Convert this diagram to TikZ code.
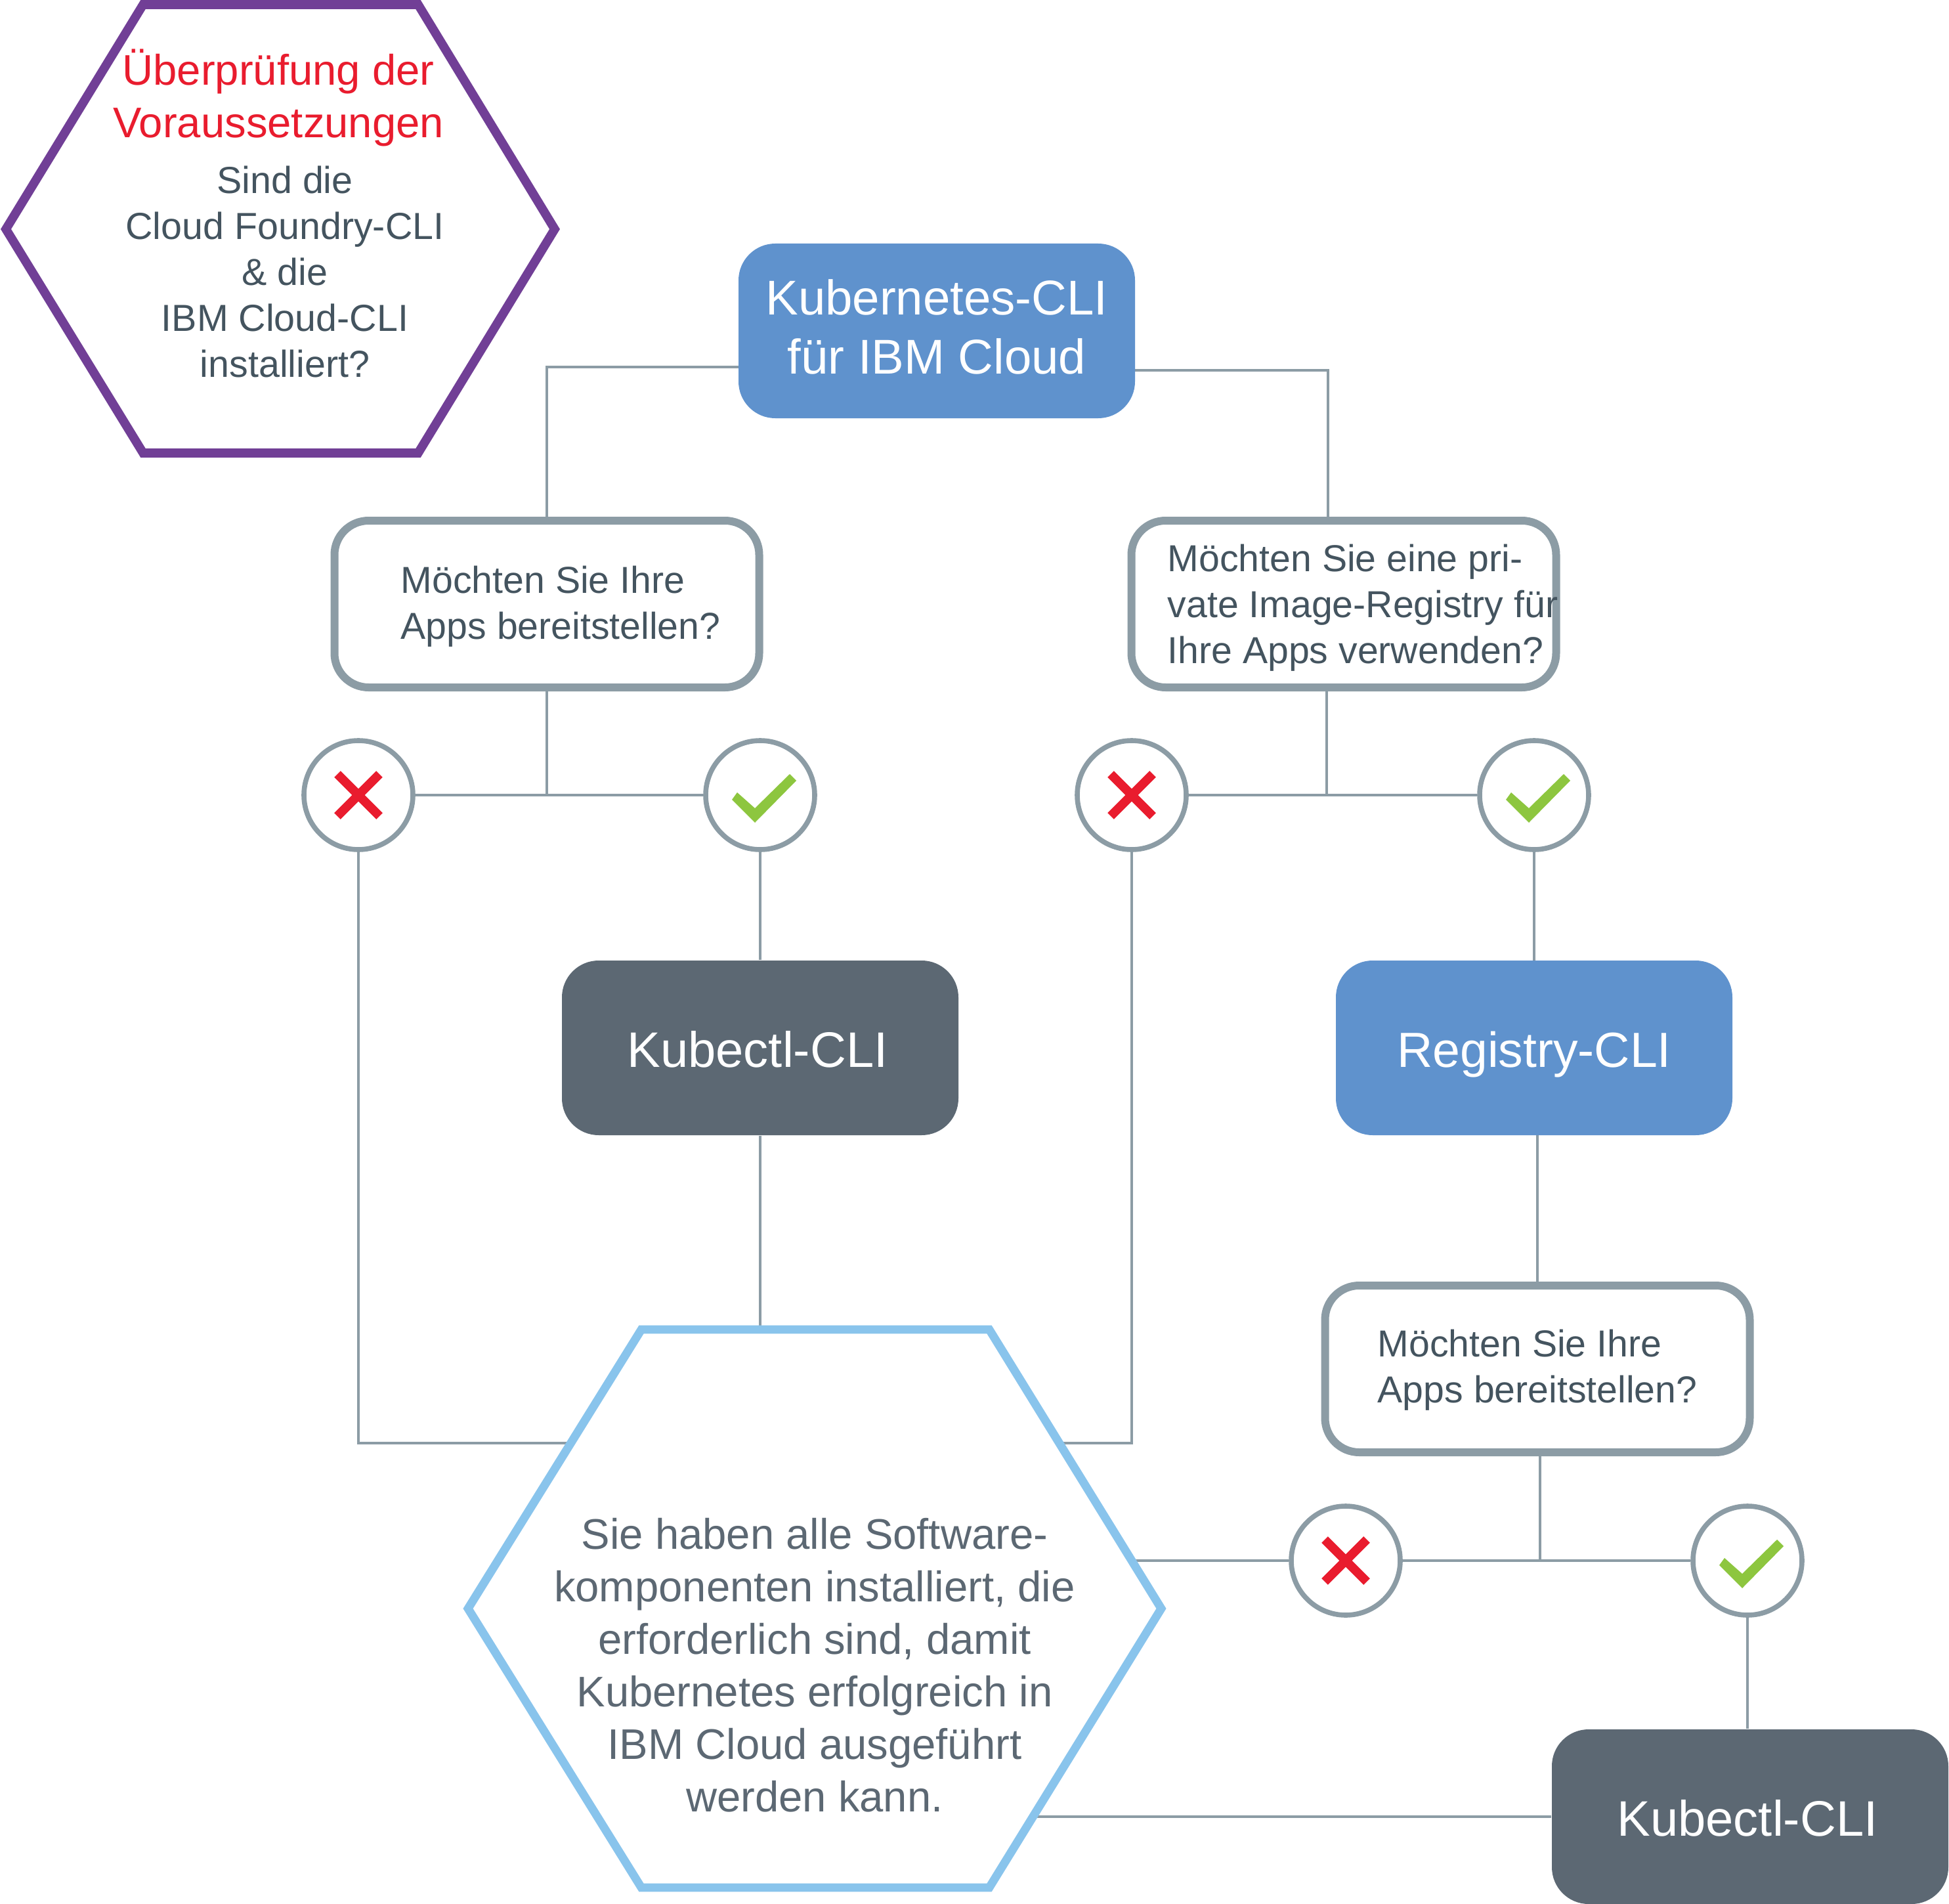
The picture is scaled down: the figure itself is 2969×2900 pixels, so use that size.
\documentclass[tikz,border=0pt]{standalone}
\usepackage{fontspec}
\setmainfont{Liberation Sans}
\usetikzlibrary{backgrounds, positioning}
\definecolor{ibmblue}{HTML}{5F92CD}
\definecolor{ibmdark}{HTML}{5C6873}
\definecolor{ibmgrey}{HTML}{8C9CA5}
\definecolor{ibmtext}{HTML}{44545F}
\definecolor{ibmred}{HTML}{E91C2E}
\definecolor{ibmgreen}{HTML}{8DC63F}
\definecolor{ibmpurple}{HTML}{713F96}
\definecolor{ibmsky}{HTML}{89C4EC}

\begin{document}
\begin{tikzpicture}[
        x=0.25pt, y=-0.25pt,
        basic/.style    = {rectangle, inner sep=0pt},
        cli/.style      = {basic, rounded corners=14pt, minimum width=151pt, minimum height=66.5pt, text=white, align=center,
                           text height=14.6pt, text depth=0pt, font=\fontsize{19}{22.3}\selectfont},
        question/.style = {basic, rounded corners=13pt, draw=ibmgrey, line width=3pt, fill=white, minimum width=161.75pt, minimum height=63.5pt},
        qtext/.style    = {inner sep=0pt, anchor=west, align=left, text=ibmtext,
                           font=\fontsize{14.3}{17.5}\selectfont},
        answer/.style   = {circle, draw=ibmgrey, line width=1.9pt, fill=white, minimum size=41.5pt, inner sep=0pt},
        hexa/.style     = {fill=white, line join=miter},
        conn/.style     = {draw=ibmgrey, line width=1pt},
        crossmark/.pic  = {\draw[ibmred, line width=3.4pt] (-32,-32) -- (32,32) (-32,32) -- (32,-32);},
        okmark/.pic     = {\fill[ibmgreen] (-8,42) -- (-43,7) -- (-35,-4) -- (-8,20) -- (45,-32) -- (55,-22) -- cycle;}]

    \useasboundingbox (0,0) rectangle (2969,2900);

    % prerequisite hexagon
    \draw[hexa, draw=ibmpurple, line width=3.4pt] (9,349) -- (218,7) -- (637,7) -- (845,349) -- (637,690) -- (218,690) -- cycle;
    \node[inner sep=0pt, align=center, text=ibmred, font=\fontsize{16.3}{20}\selectfont] (checktitle) at (424,149)
        {Überprüfung der \\ Voraussetzungen};
    \node[inner sep=0pt, align=center, text=ibmtext, font=\fontsize{14.35}{17.5}\selectfont] (checktext) at (434,414)
        {Sind die \\ Cloud Foundry-CLI \\ \& die \\ IBM Cloud-CLI \\ installiert?};

    % the tool boxes
    \node[cli, fill=ibmblue] (kube) at (1427,504) {};
    \node[inner sep=0pt, align=center, text=white, font=\fontsize{18.6}{22.3}\selectfont] (kubetext) at (1427,498)
        {Kubernetes-CLI \\ für IBM Cloud};
    \node[cli, fill=ibmdark] (kubectla) at (1158,1596) {\kern-2pt Kubectl-CLI};
    \node[cli, fill=ibmblue, font=\fontsize{18.8}{22.3}\selectfont] (registry) at (2337,1596) {Registry-CLI};
    \node[cli, fill=ibmdark] (kubectlb) at (2666,2767) {\kern-2pt Kubectl-CLI};

    % the questions
    \node[question] (qa) at (833,920) {};
    \node[qtext] (qatext) at (610,924) {Möchten Sie Ihre \\ Apps bereitstellen?};
    \node[question] (qb) at (2047,920) {};
    \node[qtext] (qbtext) at (1778,926) {Möchten Sie eine pri- \\ vate Image-Registry für \\ Ihre Apps verwenden?};
    \node[question] (qc) at (2342,2085) {};
    \node[qtext] (qctext) at (2098,2087) {Möchten Sie Ihre \\ Apps bereitstellen?};

    % yes and no circles
    \node[answer] (noa)  at (546,1211) {};
    \node[answer] (yesa) at (1158,1211) {};
    \node[answer] (nob)  at (1724,1211) {};
    \node[answer] (yesb) at (2337,1211) {};
    \node[answer] (noc)  at (2050,2377) {};
    \node[answer] (yesc) at (2662,2377) {};

    \foreach \value in {a,b,c} {
        \pic at (no\value) {crossmark};
        \pic at (yes\value) {okmark};
    }

    % result hexagon
    \draw[hexa, draw=ibmsky, line width=3.2pt] (713,2450) -- (977,2025) -- (1507,2025) -- (1769,2450) -- (1507,2875) -- (977,2875) -- cycle;
    \node[inner sep=0pt, align=center, text=ibmdark, font=\fontsize{16.3}{20}\selectfont] (donetext) at (1241,2536)
        {Sie haben alle Software- \\ komponenten installiert, die \\ erforderlich sind, damit \\
         Kubernetes erfolgreich in \\ IBM Cloud ausgeführt \\ werden kann.};

    % free ends of the lines
    \coordinate (kubeleft)   at (1125,559);
    \coordinate (kuberight)  at (1729,564);
    \coordinate (qatop)      at (833,787);
    \coordinate (qbtop)      at (2023,787);
    \coordinate (qbbottom)   at (2021,1053);
    \coordinate (qcbottom)   at (2346,2218);
    \coordinate (joina)      at (833,1211);
    \coordinate (joinb)      at (2021,1211);
    \coordinate (joinc)      at (2346,2377);
    \coordinate (doneleft)   at (870,2198);
    \coordinate (doneright)  at (1614,2198);
    \coordinate (donetop)    at (1158,2025);
    \coordinate (doneno)     at (1724,2377);
    \coordinate (donekube)   at (1573,2767);
    \coordinate (regtop)     at (2337,1463);
    \coordinate (regbot)     at (2342,1729);

    % lines run behind the shapes
    \begin{scope}[on background layer]
    \draw[conn] (kubeleft) -| (qatop);
    \draw[conn] (kuberight) -| (qbtop);
    \draw[conn] (qa.south) -- (joina);
    \draw[conn] (qbbottom) -- (joinb);
    \draw[conn] (qcbottom) -- (joinc);
    \draw[conn] (noa) -- (yesa);
    \draw[conn] (nob) -- (yesb);
    \draw[conn] (noc) -- (yesc);
    \draw[conn] (noa) |- (doneleft);
    \draw[conn] (nob) |- (doneright);
    \draw[conn] (yesa) -- (kubectla);
    \draw[conn] (kubectla) -- (donetop);
    \draw[conn] (yesb) -- (regtop);
    \draw[conn] (regbot) -- (qc.north);
    \draw[conn] (doneno) -- (noc);
    \draw[conn] (yesc) -- (yesc |- kubectlb.north);
    \draw[conn] (donekube) -- (kubectlb.west);
    \end{scope}
\end{tikzpicture}
\end{document}
